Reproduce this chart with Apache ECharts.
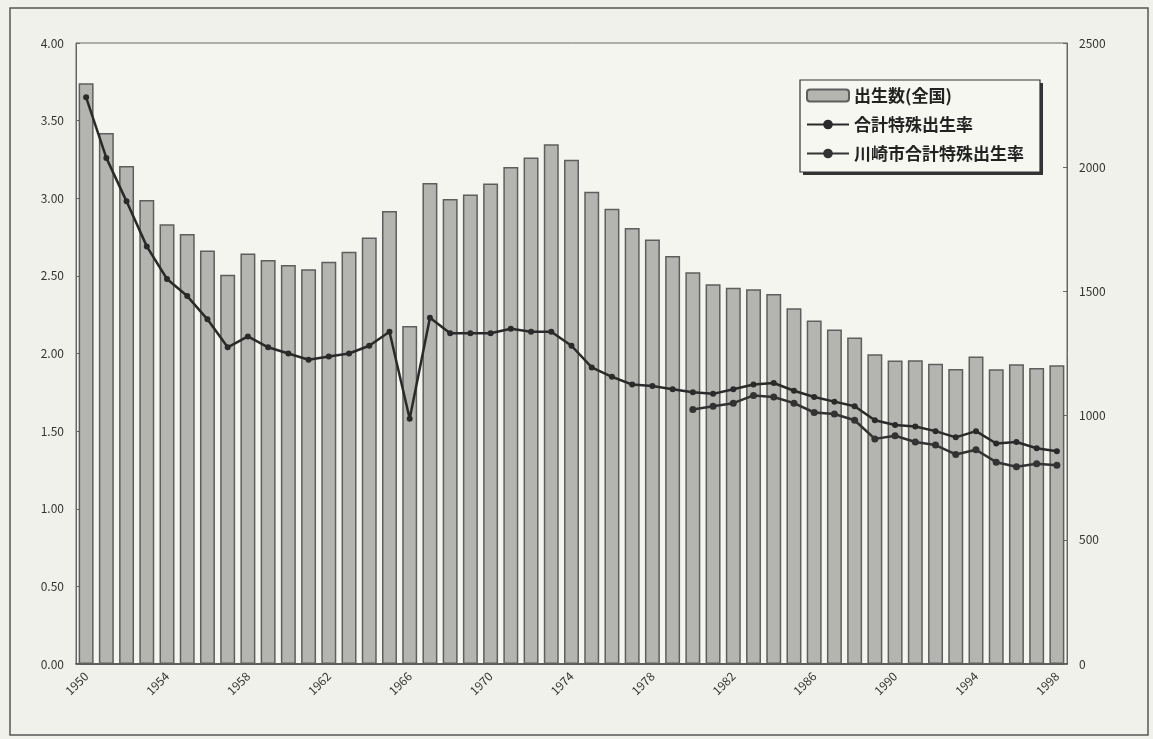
<!DOCTYPE html>
<html>
<head>
<meta charset="utf-8">
<script src="https://cdn.jsdelivr.net/npm/echarts@6/dist/echarts.min.js"></script>
<style>
html,body{margin:0;padding:0;background:#f1f1eb;}
#c{width:1153px;height:739px;}
</style>
</head>
<body>
<div id="c"></div>
<script>
const years = [];
for (let y = 1950; y <= 1998; y++) years.push(String(y));

// 出生数(全国) in thousands (right axis)
const births = [2338,2138,2005,1868,1770,1731,1665,1567,1653,1626,
                1606,1589,1619,1660,1717,1824,1361,1936,1872,1890,
                1934,2001,2039,2092,2030,1901,1833,1755,1709,1643,
                1577,1529,1515,1509,1490,1432,1383,1347,1314,1247,
                1222,1223,1209,1188,1238,1187,1207,1192,1203];

// 合計特殊出生率 (national)
const tfrNational = [3.65,3.26,2.98,2.69,2.48,2.37,2.22,2.04,2.11,2.04,
                     2.00,1.96,1.98,2.00,2.05,2.14,1.58,2.23,2.13,2.13,
                     2.13,2.16,2.14,2.14,2.05,1.91,1.85,1.80,1.79,1.77,
                     1.75,1.74,1.77,1.80,1.81,1.76,1.72,1.69,1.66,1.57,
                     1.54,1.53,1.50,1.46,1.50,1.42,1.43,1.39,1.37];

// 川崎市合計特殊出生率 (from 1980)
const tfrKawasaki = [null,null,null,null,null,null,null,null,null,null,
                     null,null,null,null,null,null,null,null,null,null,
                     null,null,null,null,null,null,null,null,null,null,
                     1.64,1.66,1.68,1.73,1.72,1.68,1.62,1.61,1.57,1.45,
                     1.47,1.43,1.41,1.35,1.38,1.30,1.27,1.29,1.28];

const FONT = '"Noto Sans CJK JP", "DejaVu Sans", sans-serif';
const chart = echarts.init(document.getElementById('c'));
chart.setOption({
  backgroundColor: '#f1f1eb',
  animation: false,
  textStyle: { fontFamily: FONT },
  graphic: [{
    type: 'rect',
    shape: { x: 10, y: 8, width: 1138, height: 727 },
    style: { fill: 'none', stroke: '#555', lineWidth: 1.5 },
    z: -1
  }, {
    type: 'rect',
    shape: { x: 803, y: 83, width: 240, height: 92 },
    style: { fill: '#333' },
    z: 5
  }, {
    type: 'rect',
    shape: { x: 800, y: 80, width: 240, height: 92 },
    style: { fill: '#f7f7f2', stroke: '#333', lineWidth: 1.2 },
    z: 6
  }],
  grid: { left: 76, right: 86, top: 43, bottom: 75, show: true,
          backgroundColor: '#f5f5f0', borderColor: '#666', borderWidth: 1 },
  legend: {
    orient: 'vertical',
    left: 806, top: 87,
    itemWidth: 42, itemHeight: 12, itemGap: 12,
    padding: 0,
    textStyle: { fontFamily: FONT, fontSize: 17, fontWeight: 'bold', color: '#222' },
    data: ['出生数(全国)', '合計特殊出生率', '川崎市合計特殊出生率'],
    z: 10
  },
  xAxis: {
    type: 'category',
    data: years,
    boundaryGap: true,
    axisLine: { lineStyle: { color: '#444', width: 1.5 } },
    axisTick: { show: false },
    axisLabel: { interval: 3, rotate: 45, fontSize: 12, color: '#333', margin: 10, fontFamily: FONT }
  },
  yAxis: [{
    type: 'value', min: 0, max: 4, interval: 0.5,
    axisLine: { show: true, lineStyle: { color: '#666' } },
    axisTick: { show: true, inside: true, length: 4, lineStyle: { color: '#666' } },
    splitLine: { show: false },
    axisLabel: { formatter: v => v.toFixed(2), fontSize: 12, color: '#333', margin: 12, fontFamily: FONT }
  }, {
    type: 'value', min: 0, max: 2500, interval: 500,
    axisLine: { show: true, lineStyle: { color: '#666' } },
    axisTick: { show: true, inside: true, length: 4, lineStyle: { color: '#666' } },
    splitLine: { show: false },
    axisLabel: { formatter: v => String(v), fontSize: 12, color: '#333', margin: 12, fontFamily: FONT }
  }],
  series: [{
    name: '出生数(全国)',
    type: 'bar',
    yAxisIndex: 1,
    data: births,
    barCategoryGap: '26%',
    itemStyle: { color: '#b4b4b0', borderColor: '#5e5e5e', borderWidth: 1.5 },
    z: 1
  }, {
    name: '合計特殊出生率',
    type: 'line',
    yAxisIndex: 0,
    data: tfrNational,
    symbol: 'circle', symbolSize: 6,
    lineStyle: { color: '#2a2a2a', width: 2.5 },
    itemStyle: { color: '#2a2a2a' },
    z: 3
  }, {
    name: '川崎市合計特殊出生率',
    type: 'line',
    yAxisIndex: 0,
    data: tfrKawasaki,
    connectNulls: false,
    symbol: 'circle', symbolSize: 7,
    lineStyle: { color: '#333', width: 2.5 },
    itemStyle: { color: '#333' },
    z: 3
  }]
});
</script>
</body>
</html>
